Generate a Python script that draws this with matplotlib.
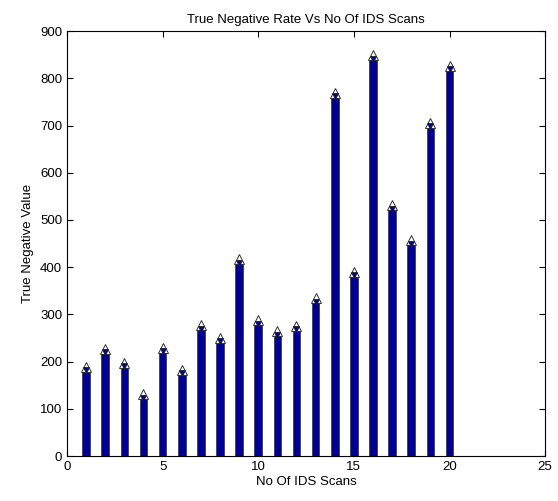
import numpy as np
import matplotlib
matplotlib.use('Agg')
import matplotlib.pyplot as plt
import matplotlib.transforms as mtransforms

plt.rcParams['font.family'] = ['Liberation Sans Narrow', 'Liberation Sans', 'DejaVu Sans']

scans = [1, 2, 3, 4, 5, 6, 7, 8, 9, 10, 11, 12, 13, 14, 15, 16, 17, 18, 19, 20]
true_neg = [182, 220, 190, 123, 222, 175, 270, 243, 409, 280, 257, 269,
            327, 762, 383, 842, 524, 450, 699, 819]
x_ticks = [0, 5, 10, 15, 20, 25]
y_ticks = [0, 100, 200, 300, 400, 500, 600, 700, 800, 900]

fig = plt.figure(figsize=(5.58, 5.01), dpi=100)
ax = fig.add_axes([0.120, 0.0898, 0.857, 0.848])

ax.bar(scans, true_neg, width=0.4, color='#000095', edgecolor='#404040', linewidth=0.6, zorder=2)
# white up-triangle sitting on the bar top, dark down-triangle just inside it
up = ax.transData + mtransforms.ScaledTranslation(0, 2.5 / 72, fig.dpi_scale_trans)
ax.plot(scans, true_neg, linestyle='none', marker='^', markersize=7, transform=up,
        markerfacecolor='white', markeredgecolor='#303030', markeredgewidth=0.7, zorder=3)
ax.plot(scans, true_neg, linestyle='none', marker='v', markersize=4.5,
        markerfacecolor='#000095', markeredgecolor='#202020', markeredgewidth=0.6, zorder=4)

ax.set_xlim(0, 25)
ax.set_ylim(0, 900)
ax.set_xticks(x_ticks)
ax.set_yticks(y_ticks)
ax.tick_params(direction='in', top=True, right=True, length=4, labelsize=9.5, width=0.8)
for s in ax.spines.values():
    s.set_linewidth(0.8)
    s.set_zorder(5)

ax.set_title('True Negative Rate Vs No Of IDS Scans', fontsize=9.5, pad=6)
ax.set_xlabel('No Of IDS Scans', fontsize=9.5, labelpad=2)
ax.set_ylabel('True Negative Value', fontsize=9.5, labelpad=4)

fig.savefig('out.png', dpi=100)
